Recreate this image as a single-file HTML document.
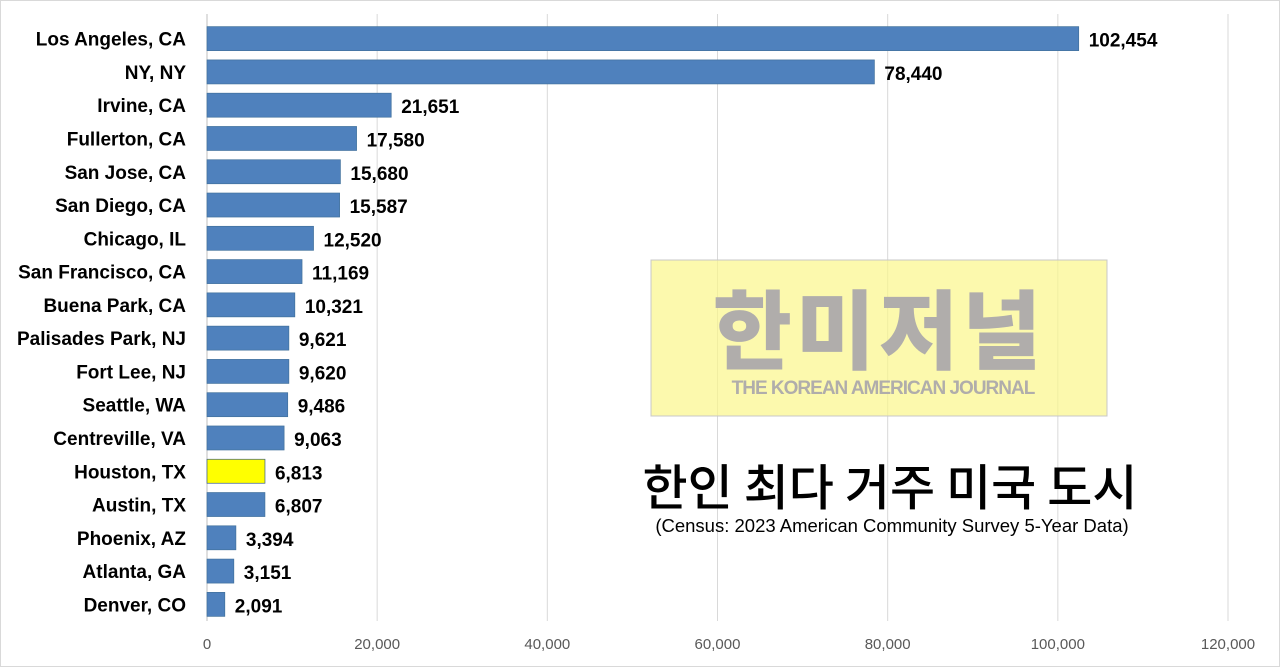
<!DOCTYPE html>
<html><head><meta charset="utf-8"><style>
body{margin:0;background:#fff}
svg{display:block}
</style></head><body>
<svg id="chart" width="1280" height="667" xmlns="http://www.w3.org/2000/svg" font-family="'Liberation Sans','Noto Sans CJK KR',sans-serif">
<rect x="0.5" y="0.5" width="1279" height="666" fill="#fff" stroke="#d9d9d9"/>
<g id="grid"></g>
<g id="bars"></g>
<g id="overlay">
<rect x="651" y="260" width="456" height="156" fill="#fbf68a" fill-opacity="0.7" stroke="#c8c8c8"/>
<text x="879" y="362" text-anchor="middle" font-family="'Noto Sans CJK KR',sans-serif" font-weight="900" font-size="86" fill="#b0adab" letter-spacing="4">한미저널</text>
<text x="883" y="394" text-anchor="middle" font-weight="bold" font-size="19" fill="#b0adab" letter-spacing="-1">THE KOREAN AMERICAN JOURNAL</text>
<text x="890" y="505" text-anchor="middle" font-family="'Noto Sans CJK KR',sans-serif" font-weight="500" font-size="49" fill="#000">한인 최다 거주 미국 도시</text>
<text x="892" y="532" text-anchor="middle" font-size="18.5" fill="#000">(Census: 2023 American Community Survey 5-Year Data)</text>
</g>
</svg>
<script>
const cities=["Los Angeles, CA","NY, NY","Irvine, CA","Fullerton, CA","San Jose, CA","San Diego, CA","Chicago, IL","San Francisco, CA","Buena Park, CA","Palisades Park, NJ","Fort Lee, NJ","Seattle, WA","Centreville, VA","Houston, TX","Austin, TX","Phoenix, AZ","Atlanta, GA","Denver, CO"];
const values=[102454,78440,21651,17580,15680,15587,12520,11169,10321,9621,9620,9486,9063,6813,6807,3394,3151,2091];
const ticks=[0,20000,40000,60000,80000,100000,120000];
const highlight="Houston, TX";
const NS="http://www.w3.org/2000/svg";
const X0=207,X1=1228,VMAX=120000,PTOP=22,PBOTTOM=621;
const xs=v=>X0+(v/VMAX)*(X1-X0);
const band=(PBOTTOM-PTOP)/cities.length;
const yc=i=>PTOP+band*(i+0.5);
function mk(tag,attrs,parent){const e=document.createElementNS(NS,tag);for(const k in attrs)e.setAttribute(k,attrs[k]);parent.appendChild(e);return e;}
const grid=document.getElementById('grid'),bars=document.getElementById('bars');
ticks.forEach(t=>{
 const l=mk('line',{x1:xs(t),x2:xs(t),y1:14,y2:PBOTTOM,stroke:t===0?'#bfbfbf':'#d9d9d9','stroke-width':1},grid);
 
 
 const tx=mk('text',{x:xs(t),y:649,'text-anchor':'middle','font-size':15,fill:'#595959'},grid);
 tx.textContent=t.toLocaleString('en-US');
 
 
});
cities.forEach((c,i)=>{
 const y=yc(i),h=24;
 const r=mk('rect',{x:X0,y:y-h/2,width:xs(values[i])-X0,height:h,fill:c===highlight?'#ffff00':'#4f81bd',stroke:c===highlight?'#385d8a':'#41719c','stroke-width':0.7},bars);
 
 
 const lb=mk('text',{x:186,y:y+7,'text-anchor':'end','font-size':19,'font-weight':'bold',fill:'#000'},bars);
 lb.textContent=c;
 
 
 const vl=mk('text',{x:xs(values[i])+10,y:y+8,'font-size':19,'font-weight':'bold',fill:'#000'},bars);
 vl.textContent=values[i].toLocaleString('en-US');
 
 
});
</script>
</body></html>
